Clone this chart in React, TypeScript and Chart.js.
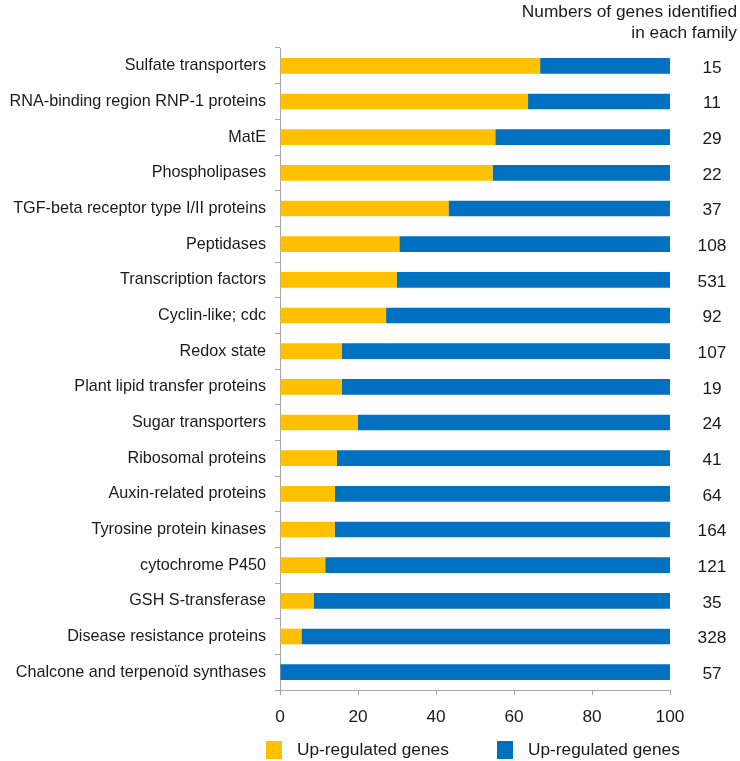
import React, { useEffect, useRef } from "react";
import { Chart, registerables } from "chart.js";

Chart.register(...registerables);

const categories = [
  "Sulfate transporters",
  "RNA-binding region RNP-1 proteins",
  "MatE",
  "Phospholipases",
  "TGF-beta receptor type I/II proteins",
  "Peptidases",
  "Transcription factors",
  "Cyclin-like; cdc",
  "Redox state",
  "Plant lipid transfer proteins",
  "Sugar transporters",
  "Ribosomal proteins",
  "Auxin-related proteins",
  "Tyrosine protein kinases",
  "cytochrome P450",
  "GSH S-transferase",
  "Disease resistance proteins",
  "Chalcone and terpenoïd synthases",
];

const yellowValues = [66.7, 63.6, 55.2, 54.5, 43.2, 30.6, 29.9, 27.2, 15.9, 15.8, 20.0, 14.6, 14.1, 14.0, 11.6, 8.6, 5.5, 0];
const blueValues = [33.3, 36.4, 44.8, 45.5, 56.8, 69.4, 70.1, 72.8, 84.1, 84.2, 80.0, 85.4, 85.9, 86.0, 88.4, 91.4, 94.5, 100];
const geneCounts = ["15", "11", "29", "22", "37", "108", "531", "92", "107", "19", "24", "41", "64", "164", "121", "35", "328", "57"];
const xTicks = [0, 20, 40, 60, 80, 100];
const legendLabels = ["Up-regulated genes", "Up-regulated genes"];
const headerLines = ["Numbers of genes identified", "in each family"];

const YELLOW = "#FFC000";
const BLUE = "#0070C0";
const TEXT = "#1a1a1a";
const AXIS = "#a6a6a6";
const FONT = "'Liberation Sans', Arial, sans-serif";
const LABEL_SIZE = 16.2;
const OTHER_SIZE = 17.3;

const extrasPlugin = {
  id: "extras",
  afterDraw(chart: any) {
    const ctx = chart.ctx;
    const y = chart.scales.y;
    ctx.save();
    ctx.fillStyle = TEXT;
    ctx.font = `${OTHER_SIZE}px ${FONT}`;
    // counts
    ctx.textAlign = "center";
    ctx.textBaseline = "middle";
    geneCounts.forEach((c, i) => {
      ctx.fillText(c, 712, y.getPixelForValue(i) + 2);
    });
    // header
    ctx.textAlign = "right";
    ctx.fillText(headerLines[0], 737, 12);
    ctx.fillText(headerLines[1], 737, 33);
    // legend
    const colors = [YELLOW, BLUE];
    const boxX = [266, 497];
    ctx.textAlign = "left";
    legendLabels.forEach((lab, i) => {
      ctx.fillStyle = colors[i];
      ctx.fillRect(boxX[i], 741, 16, 18);
      ctx.fillStyle = TEXT;
      ctx.fillText(lab, boxX[i] + 31, 750);
    });
    ctx.restore();
  },
};

export default function App() {
  const ref = useRef<HTMLCanvasElement>(null);
  useEffect(() => {
    document.body.style.margin = "0";
    const canvas = ref.current!;
    const chart = new Chart(canvas, {
      type: "bar",
      data: {
        labels: categories,
        datasets: [
          {
            label: legendLabels[0],
            data: yellowValues,
            backgroundColor: YELLOW,
            barPercentage: 0.44,
            categoryPercentage: 1,
          },
          {
            label: legendLabels[1],
            data: blueValues,
            backgroundColor: BLUE,
            barPercentage: 0.44,
            categoryPercentage: 1,
          },
        ],
      },
      options: {
        indexAxis: "y",
        animation: false,
        responsive: true,
        maintainAspectRatio: false,
        layout: { padding: { top: 48, bottom: 31, left: 0, right: 70 } },
        plugins: {
          legend: { display: false },
          tooltip: { enabled: false },
          title: { display: false },
        },
        scales: {
          x: {
            stacked: true,
            min: 0,
            max: 100,
            afterBuildTicks: (scale: any) => {
              scale.ticks = xTicks.map((v) => ({ value: v }));
            },
            afterFit: (scale: any) => {
              scale.height = 40;
            },
            ticks: {
              color: TEXT,
              font: { family: FONT, size: OTHER_SIZE },
              padding: 12,
              maxRotation: 0,
            },
            grid: {
              display: true,
              drawOnChartArea: false,
              tickLength: 5,
              color: AXIS,
            },
            border: { display: true, color: AXIS },
          },
          y: {
            stacked: true,
            afterFit: (scale: any) => {
              scale.width = 280;
            },
            ticks: {
              color: TEXT,
              font: { family: FONT, size: LABEL_SIZE },
              padding: 9,
              autoSkip: false,
            },
            grid: {
              display: true,
              drawOnChartArea: false,
              tickLength: 5,
              color: AXIS,
            },
            border: { display: true, color: AXIS },
          },
        },
      },
      plugins: [extrasPlugin],
    } as any);
    return () => chart.destroy();
  }, []);
  return (
    <div style={{ width: 740, height: 761, position: "relative" }}>
      <canvas ref={ref} />
    </div>
  );
}
